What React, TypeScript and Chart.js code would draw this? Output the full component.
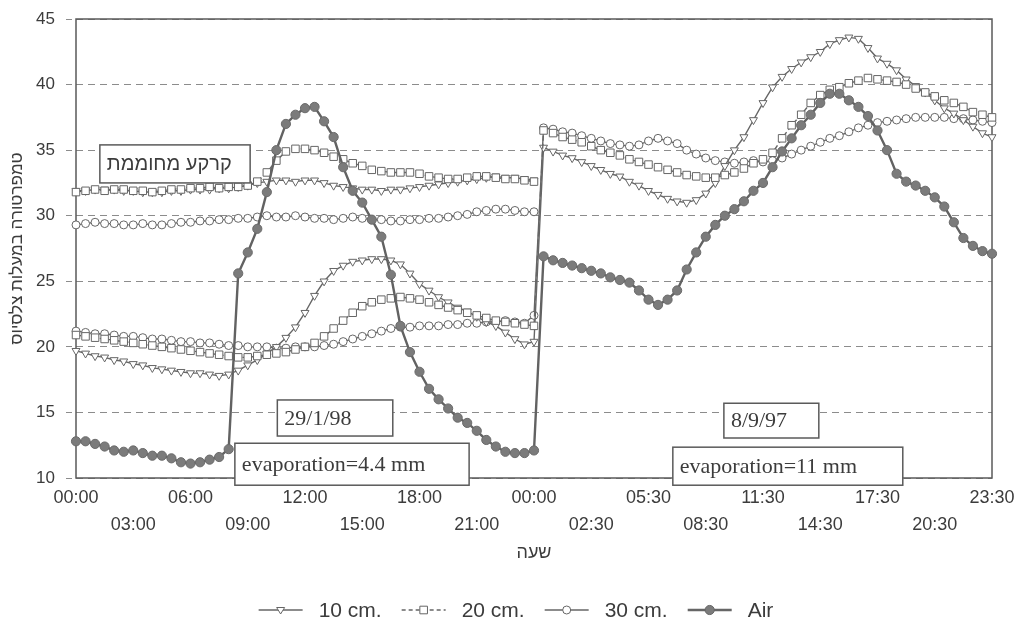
import { useEffect, useRef } from 'react';
import { Chart, registerables } from 'chart.js';

Chart.register(...registerables);

// ---- tick labels shown on the category axis (every 6th half-hour) ----
const tickLabels = [
  '00:00', '03:00', '06:00', '09:00', '12:00', '15:00', '18:00', '21:00', '00:00',
  '02:30', '05:30', '08:30', '11:30', '14:30', '17:30', '20:30', '23:30',
];

// categories: half-hourly readings, day 1 (29/1/98) 00:00..24:00, day 2 (8/9/97) 00:00..23:30
const hhmm = (m: number) =>
  `${String(Math.floor(m / 60) % 24).padStart(2, '0')}:${String(m % 60).padStart(2, '0')}`;
const day1Times = Array.from({ length: 49 }, (_, i) => `29/1/98 ${hhmm(i * 30)}`);
const day2Times = Array.from({ length: 48 }, (_, i) => `8/9/97 ${hhmm(i * 30)}`);
const categories = [...day1Times, ...day2Times];

// ---- day 1 (29/1/98), normal soil ----
const day1Soil10 = [
  19.7, 19.5, 19.3, 19.2, 19.0, 18.9, 18.7, 18.6, 18.4, 18.3,
  18.2, 18.1, 18.0, 18.0, 17.9, 17.8, 17.9, 18.2, 18.6, 19.0,
  19.5, 20.0, 20.7, 21.5, 22.6, 23.9, 25.0, 25.8, 26.2, 26.5,
  26.6, 26.7, 26.7, 26.6, 26.3, 25.6, 24.8, 24.3, 23.8, 23.4,
  23.0, 22.7, 22.3, 21.9, 21.6, 21.1, 20.6, 20.2, 20.4,
];
const day1Soil20 = [
  20.9, 20.8, 20.7, 20.6, 20.5, 20.4, 20.3, 20.2, 20.1, 20.0,
  19.9, 19.8, 19.7, 19.6, 19.5, 19.4, 19.3, 19.2, 19.2, 19.3,
  19.4, 19.5, 19.6, 19.8, 20.0, 20.3, 20.8, 21.4, 22.0, 22.6,
  23.1, 23.4, 23.6, 23.7, 23.8, 23.7, 23.6, 23.4, 23.2, 23.0,
  22.8, 22.6, 22.4, 22.2, 22.0, 21.9, 21.8, 21.7, 21.6,
];
const day1Soil30 = [
  21.2, 21.1, 21.0, 21.0, 20.9, 20.8, 20.8, 20.7, 20.6, 20.6,
  20.5, 20.4, 20.4, 20.3, 20.3, 20.2, 20.1, 20.1, 20.0, 20.0,
  20.0, 19.9, 19.9, 20.0, 20.0, 20.0, 20.1, 20.2, 20.4, 20.6,
  20.8, 21.0, 21.2, 21.4, 21.5, 21.5, 21.6, 21.6, 21.6, 21.7,
  21.7, 21.8, 21.8, 21.9, 21.9, 22.0, 21.9, 21.8, 22.4,
];
const day1Air = [
  12.8, 12.8, 12.6, 12.4, 12.1, 12.0, 12.1, 11.9, 11.7, 11.7,
  11.5, 11.2, 11.1, 11.2, 11.4, 11.6, 12.2, 25.6, 27.2, 29.0,
  31.8, 35.0, 37.0, 37.7, 38.2, 38.3, 37.2, 36.0, 33.7, 31.9,
  31.0, 29.7, 28.4, 25.5, 21.6, 19.6, 18.1, 16.8, 16.0, 15.3,
  14.6, 14.2, 13.6, 12.9, 12.4, 12.0, 11.9, 11.9, 12.1,
];

// ---- day 1 (29/1/98), heated soil ----
const heatedSoil10 = [
  31.9, 31.9, 32.0, 32.0, 32.0, 31.9, 31.9, 31.8, 31.8, 31.8,
  31.9, 31.9, 32.0, 32.0, 32.0, 32.1, 32.1, 32.2, 32.3, 32.5,
  32.6, 32.7, 32.7, 32.6, 32.7, 32.7, 32.5, 32.3, 32.2, 32.1,
  32.0, 32.0, 31.9, 32.0, 32.0, 32.1, 32.2, 32.3, 32.4, 32.5,
  32.6, 32.7, 32.8, 32.9, 33.0, 32.9, 32.9, 32.8, 32.7,
];
const heatedSoil20 = [
  31.8, 31.9, 32.0, 31.9, 32.0, 32.0, 31.9, 31.9, 31.8, 31.9,
  32.0, 32.0, 32.1, 32.1, 32.2, 32.1, 32.2, 32.2, 32.3, 32.6,
  33.3, 34.2, 34.9, 35.1, 35.1, 35.0, 34.8, 34.5, 34.3, 34.0,
  33.8, 33.5, 33.4, 33.3, 33.3, 33.3, 33.2, 33.0, 32.9, 32.8,
  32.8, 32.9, 33.0, 33.0, 32.9, 32.8, 32.8, 32.7, 32.6,
];
const heatedSoil30 = [
  29.3, 29.4, 29.5, 29.4, 29.4, 29.3, 29.3, 29.4, 29.3, 29.3,
  29.4, 29.5, 29.5, 29.6, 29.6, 29.7, 29.7, 29.8, 29.8, 29.9,
  30.0, 29.9, 29.9, 30.0, 29.9, 29.8, 29.8, 29.7, 29.8, 29.9,
  29.8, 29.7, 29.7, 29.6, 29.6, 29.7, 29.7, 29.8, 29.8, 29.9,
  30.0, 30.1, 30.3, 30.4, 30.5, 30.5, 30.4, 30.3, 30.3,
];

// ---- day 2 (8/9/97) ----
const day2Soil10 = [
  35.2, 34.9, 34.6, 34.4, 34.1, 33.8, 33.5, 33.2, 33.0, 32.6,
  32.3, 31.9, 31.6, 31.3, 31.1, 31.0, 31.2, 31.7, 32.5, 33.8,
  35.0, 36.0, 37.3, 38.6, 39.8, 40.6, 41.2, 41.7, 42.1, 42.5,
  43.1, 43.4, 43.6, 43.5, 42.8, 42.0, 41.6, 41.1, 40.4, 39.9,
  39.4, 38.8, 38.2, 37.8, 37.3, 36.8, 36.3, 36.0,
];
const day2Soil20 = [
  36.5, 36.3, 36.0, 35.8, 35.6, 35.3, 35.0, 34.8, 34.6, 34.3,
  34.1, 33.9, 33.7, 33.5, 33.3, 33.1, 33.0, 32.9, 32.9, 33.1,
  33.3, 33.6, 34.0, 34.3, 34.8, 35.9, 36.9, 37.7, 38.6, 39.2,
  39.6, 39.8, 40.1, 40.3, 40.5, 40.4, 40.3, 40.2, 40.0, 39.7,
  39.4, 39.1, 38.8, 38.6, 38.3, 37.9, 37.7, 37.5,
];
const day2Soil30 = [
  36.7, 36.6, 36.4, 36.3, 36.1, 35.9, 35.7, 35.5, 35.4, 35.3,
  35.4, 35.7, 35.9, 35.7, 35.5, 35.0, 34.7, 34.4, 34.2, 34.1,
  34.0, 34.1, 34.2, 34.1, 34.2, 34.4, 34.7, 35.0, 35.3, 35.6,
  35.9, 36.1, 36.4, 36.7, 36.9, 37.1, 37.2, 37.3, 37.4, 37.5,
  37.5, 37.5, 37.5, 37.4, 37.4, 37.3, 37.2, 37.1,
];
const day2Air = [
  26.9, 26.6, 26.4, 26.2, 26.0, 25.8, 25.6, 25.3, 25.1, 24.9,
  24.3, 23.6, 23.2, 23.6, 24.3, 25.9, 27.2, 28.4, 29.3, 30.0,
  30.5, 31.1, 31.9, 32.5, 33.7, 34.9, 35.9, 36.9, 37.7, 38.6,
  39.3, 39.3, 38.8, 38.3, 37.6, 36.5, 35.0, 33.2, 32.6, 32.3,
  31.9, 31.4, 30.7, 29.5, 28.3, 27.7, 27.3, 27.1,
];

const seriesLabels = ['10 cm.', '20 cm.', '30 cm.', 'Air'];
const yTitle = 'טמפרטורה במעלות צלסיוס';
const xTitle = 'שעה';

// text boxes, placed in data units (category index, temperature)
const notes = [
  { text: 'קרקע מחוממת', x0: 2.5, x1: 18.25, yTop: 35.4, yBot: 32.5, serif: false },
  { text: '29/1/98', x0: 21.1, x1: 33.2, yTop: 15.95, yBot: 13.2, serif: true },
  { text: 'evaporation=4.4 mm', x0: 16.65, x1: 41.2, yTop: 12.65, yBot: 9.45, serif: true },
  { text: '8/9/97', x0: 67.9, x1: 77.85, yTop: 15.7, yBot: 13.05, serif: true },
  { text: 'evaporation=11 mm', x0: 62.55, x1: 86.65, yTop: 12.35, yBot: 9.45, serif: true },
];

const SANS = "'Liberation Sans', Arial, sans-serif";
const SERIF = "'Liberation Serif', 'Times New Roman', serif";
const LINE = '#666666';
const TEXT = '#3c3c3c';

type Marker = 'tri' | 'rect' | 'circle' | 'dot';
const legendStyles: { marker: Marker; dash: number[]; width: number }[] = [
  { marker: 'tri', dash: [], width: 1.4 },
  { marker: 'rect', dash: [4, 3], width: 1.4 },
  { marker: 'circle', dash: [], width: 1.4 },
  { marker: 'dot', dash: [], width: 2.4 },
];

function drawMarker(ctx: CanvasRenderingContext2D, m: Marker, x: number, y: number) {
  ctx.save();
  ctx.setLineDash([]);
  ctx.lineWidth = 1;
  ctx.strokeStyle = LINE;
  ctx.fillStyle = '#ffffff';
  ctx.beginPath();
  if (m === 'tri') {
    ctx.moveTo(x - 4, y - 2.5);
    ctx.lineTo(x + 4, y - 2.5);
    ctx.lineTo(x, y + 4);
    ctx.closePath();
  } else if (m === 'rect') {
    ctx.rect(x - 3.8, y - 3.8, 7.6, 7.6);
  } else if (m === 'circle') {
    ctx.arc(x, y, 4, 0, Math.PI * 2);
  } else {
    ctx.arc(x, y, 4.6, 0, Math.PI * 2);
    ctx.fillStyle = '#7b7b7b';
  }
  ctx.fill();
  ctx.stroke();
  ctx.restore();
}

const framePlugin = {
  id: 'frame',
  beforeDatasetsDraw(chart: any) {
    const { ctx, chartArea: a } = chart;
    ctx.save();
    ctx.strokeStyle = '#5a5a5a';
    ctx.lineWidth = 1.5;
    ctx.strokeRect(a.left, a.top, a.right - a.left, a.bottom - a.top);
    ctx.restore();
  },
};

const notesPlugin = {
  id: 'notes',
  afterDraw(chart: any) {
    const { ctx } = chart;
    const x = chart.scales.x;
    const y = chart.scales.y;
    ctx.save();
    for (const n of notes) {
      const l = x.getPixelForValue(n.x0);
      const r = x.getPixelForValue(n.x1);
      const t = y.getPixelForValue(n.yTop);
      const b = y.getPixelForValue(n.yBot);
      ctx.fillStyle = '#ffffff';
      ctx.fillRect(l, t, r - l, b - t);
      ctx.strokeStyle = '#5a5a5a';
      ctx.lineWidth = 1.5;
      ctx.strokeRect(l, t, r - l, b - t);
      ctx.font = n.serif ? `22px ${SERIF}` : `20px ${SANS}`;
      ctx.fillStyle = TEXT;
      ctx.textAlign = 'left';
      ctx.textBaseline = 'middle';
      ctx.fillText(n.text, l + 7, (t + b) / 2 + 1);
    }
    ctx.restore();
  },
};

const legendPlugin = {
  id: 'lineLegend',
  afterDraw(chart: any) {
    const { ctx } = chart;
    const iconW = 44;
    const gapIcon = 16;
    const gapItem = 20;
    const cy = 610;
    ctx.save();
    ctx.font = `21px ${SANS}`;
    const widths = seriesLabels.map((s) => ctx.measureText(s).width);
    const total =
      widths.reduce((s, w) => s + w, 0) + seriesLabels.length * (iconW + gapIcon) + (seriesLabels.length - 1) * gapItem;
    let cx = 516 - total / 2;
    seriesLabels.forEach((label, i) => {
      const st = legendStyles[i];
      ctx.strokeStyle = LINE;
      ctx.lineWidth = st.width;
      ctx.setLineDash(st.dash);
      ctx.beginPath();
      ctx.moveTo(cx, cy);
      ctx.lineTo(cx + iconW, cy);
      ctx.stroke();
      ctx.setLineDash([]);
      drawMarker(ctx, st.marker, cx + iconW / 2, cy);
      ctx.fillStyle = TEXT;
      ctx.textAlign = 'left';
      ctx.textBaseline = 'middle';
      ctx.fillText(label, cx + iconW + gapIcon, cy + 1);
      cx += iconW + gapIcon + widths[i] + gapItem;
    });
    ctx.restore();
  },
};

export default function App() {
  const ref = useRef<HTMLCanvasElement | null>(null);

  useEffect(() => {
    if (!ref.current) return;
    const soil = {
      borderColor: LINE,
      borderWidth: 1.4,
      pointBorderColor: LINE,
      pointBackgroundColor: '#ffffff',
      pointBorderWidth: 1,
      tension: 0,
      clip: 8,
    };
    const s10 = { ...soil, pointStyle: 'triangle', pointRotation: 180, pointRadius: 4.6, order: 3 };
    const s20 = { ...soil, borderDash: [5, 3], pointStyle: 'rect', pointRadius: 5.3, order: 2 };
    const s30 = { ...soil, pointStyle: 'circle', pointRadius: 4, order: 4 };

    const chart = new Chart(ref.current, {
      type: 'line',
      data: {
        labels: categories,
        datasets: [
          { ...s10, label: seriesLabels[0], data: [...day1Soil10, ...day2Soil10] },
          { ...s20, label: seriesLabels[1], data: [...day1Soil20, ...day2Soil20] },
          { ...s30, label: seriesLabels[2], data: [...day1Soil30, ...day2Soil30] },
          {
            label: seriesLabels[3],
            data: [...day1Air, ...day2Air],
            borderColor: '#626262',
            borderWidth: 2.4,
            pointStyle: 'circle',
            pointRadius: 4.6,
            pointBackgroundColor: '#7b7b7b',
            pointBorderColor: '#6a6a6a',
            pointBorderWidth: 1,
            tension: 0,
            clip: 8,
            order: 0,
          },
          { ...s10, label: '10 cm. heated', data: heatedSoil10 },
          { ...s20, label: '20 cm. heated', data: heatedSoil20 },
          { ...s30, label: '30 cm. heated', data: heatedSoil30 },
        ] as any,
      },
      options: {
        responsive: false,
        animation: false,
        devicePixelRatio: 1,
        layout: { padding: { top: 19, right: 25, left: 0, bottom: 0 } },
        plugins: {
          legend: { display: false },
          tooltip: { enabled: false },
        },
        scales: {
          x: {
            type: 'category',
            offset: false,
            grid: { display: false, drawTicks: false },
            border: { display: false },
            ticks: {
              autoSkip: false,
              maxRotation: 0,
              minRotation: 0,
              padding: 7,
              color: TEXT,
              font: { family: SANS, size: 18, lineHeight: 1.5 },
              callback: (_v: any, index: number) => {
                if (index % 6 !== 0) return null;
                const k = index / 6;
                const t = tickLabels[k];
                return k % 2 === 0 ? t : ['', t];
              },
            },
            title: {
              display: true,
              text: xTitle,
              color: TEXT,
              font: { family: SANS, size: 18 },
              padding: { top: 0, bottom: 69 },
            },
            afterFit: (s: any) => {
              s.height = 155;
              s.paddingLeft = 0;
              s.paddingRight = 0;
            },
          },
          y: {
            min: 10,
            max: 45,
            ticks: {
              stepSize: 5,
              padding: 11,
              color: TEXT,
              font: { family: SANS, size: 17 },
            },
            grid: {
              color: '#8c8c8c',
              lineWidth: 1,
              tickLength: 10,
              tickColor: '#8c8c8c',
              tickBorderDash: [6, 10],
            } as any,
            border: { display: false, dash: [7, 5] },
            title: {
              display: true,
              text: yTitle,
              color: TEXT,
              font: { family: SANS, size: 17 },
              padding: { top: 7, bottom: 0 },
            },
            afterFit: (s: any) => {
              s.width = 76;
              s.paddingTop = 0;
              s.paddingBottom = 0;
            },
          },
        },
      } as any,
      plugins: [framePlugin, notesPlugin, legendPlugin],
    });
    return () => chart.destroy();
  }, []);

  return (
    <div style={{ position: 'absolute', left: 0, top: 0, width: 1017, height: 633, background: '#ffffff' }}>
      <canvas ref={ref} width={1017} height={633} />
    </div>
  );
}
